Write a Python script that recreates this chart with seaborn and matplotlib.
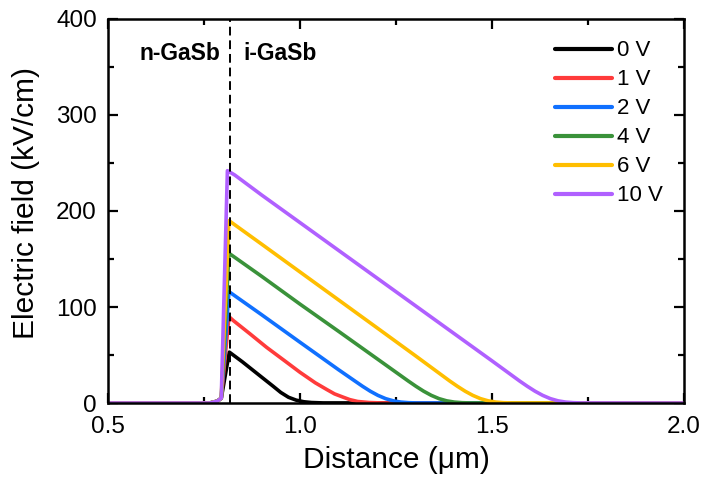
import numpy as np
import pandas as pd
import matplotlib
matplotlib.use("Agg")
import matplotlib.pyplot as plt
from matplotlib.ticker import MultipleLocator, FormatStrFormatter
import seaborn as sns

labels = ["0 V", "1 V", "2 V", "4 V", "6 V", "10 V"]
colors = ["#000000", "#FF3B3B", "#1070FF", "#3A923A", "#FFBE00", "#B060FF"]

rise_x = [0.50, 0.765, 0.785, 0.795]
rise_y = [0.0, 0.0, 2.0, 5.0]

x_0v = rise_x + [0.816, 0.850, 0.900, 0.930, 0.950, 0.970, 0.990, 1.010, 1.030, 1.060, 2.00]
y_0v = rise_y + [53.0, 42.9, 27.0, 17.5, 11.0, 6.0, 3.0, 1.3, 0.5, 0.1, 0.0]

x_1v = rise_x + [0.815, 0.826, 0.870, 0.913, 0.960, 1.000, 1.040, 1.070, 1.090, 1.113, 1.130, 1.150, 1.180, 1.210, 2.00]
y_1v = rise_y + [90.0, 86.0, 72.0, 58.0, 44.0, 32.0, 21.0, 14.0, 9.5, 6.0, 3.5, 1.6, 0.5, 0.1, 0.0]

x_2v = rise_x + [0.815, 0.900, 1.000, 1.100, 1.143, 1.163, 1.183, 1.203, 1.223, 1.243, 1.263, 1.283, 1.303, 2.00]
y_2v = rise_y + [116.0, 92.0, 63.3, 34.8, 22.9, 17.4, 12.3, 7.95, 4.55, 2.25, 0.95, 0.33, 0.1, 0.0]

x_4v = rise_x + [0.815, 0.900, 1.000, 1.100, 1.200, 1.282, 1.302, 1.322, 1.342, 1.362, 1.382, 1.402, 1.422, 1.442, 2.00]
y_4v = rise_y + [156.0, 132.0, 103.0, 74.8, 46.3, 22.9, 17.4, 12.3, 7.95, 4.55, 2.25, 0.95, 0.33, 0.1, 0.0]

x_6v = rise_x + [0.815, 0.900, 1.000, 1.100, 1.200, 1.300, 1.390, 1.410, 1.430, 1.450, 1.470, 1.490, 1.510, 1.530, 1.550, 2.00]
y_6v = rise_y + [190.0, 165.5, 136.5, 107.5, 78.5, 49.4, 22.9, 17.4, 12.3, 7.95, 4.55, 2.25, 0.95, 0.33, 0.1, 0.0]

x_10v = rise_x + [0.811, 0.830, 0.900, 1.000, 1.100, 1.200, 1.300, 1.400, 1.500, 1.572, 1.592, 1.612, 1.632, 1.652, 1.672, 1.692, 1.712, 1.732, 2.00]
y_10v = rise_y + [242.0, 237.5, 216.7, 187.9, 159.1, 130.3, 101.5, 72.7, 43.9, 22.9, 17.4, 12.3, 7.95, 4.55, 2.25, 0.95, 0.33, 0.1, 0.0]

xs = [x_0v, x_1v, x_2v, x_4v, x_6v, x_10v]
ys = [y_0v, y_1v, y_2v, y_4v, y_6v, y_10v]

frames = []
for lab, xx, yy in zip(labels, xs, ys):
    frames.append(pd.DataFrame({"x": xx, "y": yy, "bias": lab}))
df = pd.concat(frames, ignore_index=True)

sns.set_style("ticks")
plt.rcParams['font.family'] = ['Liberation Sans', 'DejaVu Sans']
plt.rcParams['text.color'] = 'black'
plt.rcParams['axes.labelcolor'] = 'black'
plt.rcParams['xtick.color'] = 'black'
plt.rcParams['ytick.color'] = 'black'

fig = plt.figure(figsize=(7.02, 4.83), dpi=100)
ax = fig.add_axes([0.1538, 0.1656, 0.8206, 0.7951])

sns.lineplot(data=df, x="x", y="y", hue="bias", hue_order=labels,
             palette=dict(zip(labels, colors)), linewidth=2.6, sort=False,
             estimator=None, ax=ax)

ax.axvline(0.818, color="black", lw=1.4, ls=(0, (4.5, 2.5)), zorder=5)

ax.set_xlim(0.5, 2.0)
ax.set_ylim(0, 400)
ax.xaxis.set_major_locator(MultipleLocator(0.5))
ax.xaxis.set_minor_locator(MultipleLocator(0.25))
ax.yaxis.set_major_locator(MultipleLocator(100))
ax.yaxis.set_minor_locator(MultipleLocator(50))
ax.xaxis.set_major_formatter(FormatStrFormatter('%.1f'))

ax.tick_params(which="both", direction="in", top=True, right=True, width=1.6,
               color="black", labelcolor="black")
ax.tick_params(which="major", length=7, labelsize=17.5)
ax.tick_params(axis="x", which="major", pad=9)
ax.tick_params(axis="y", which="major", pad=8)
ax.tick_params(which="minor", length=4)
for s in ax.spines.values():
    s.set_linewidth(1.8)
    s.set_color("black")

ax.set_xlabel("Distance (μm)", fontsize=21.5, labelpad=6, color="black")
ax.set_ylabel("Electric field (kV/cm)", fontsize=21.5, color="black")
ax.yaxis.set_label_coords(-0.118, 0.52)

ax.text(0.581, 364, "n-GaSb", fontsize=16.5, fontweight="bold", ha="left", va="center", color="black")
ax.text(0.852, 364, "i-GaSb", fontsize=16.5, fontweight="bold", ha="left", va="center", color="black")

leg = ax.legend(loc="upper right", frameon=False, fontsize=16, handlelength=2.6,
                handletextpad=0.2, labelspacing=0.36, borderaxespad=0.3,
                bbox_to_anchor=(0.99, 0.985))
for t in leg.get_texts():
    t.set_color("black")
for h in leg.get_lines():
    h.set_linewidth(3)

fig.savefig("out.png", dpi=100)
